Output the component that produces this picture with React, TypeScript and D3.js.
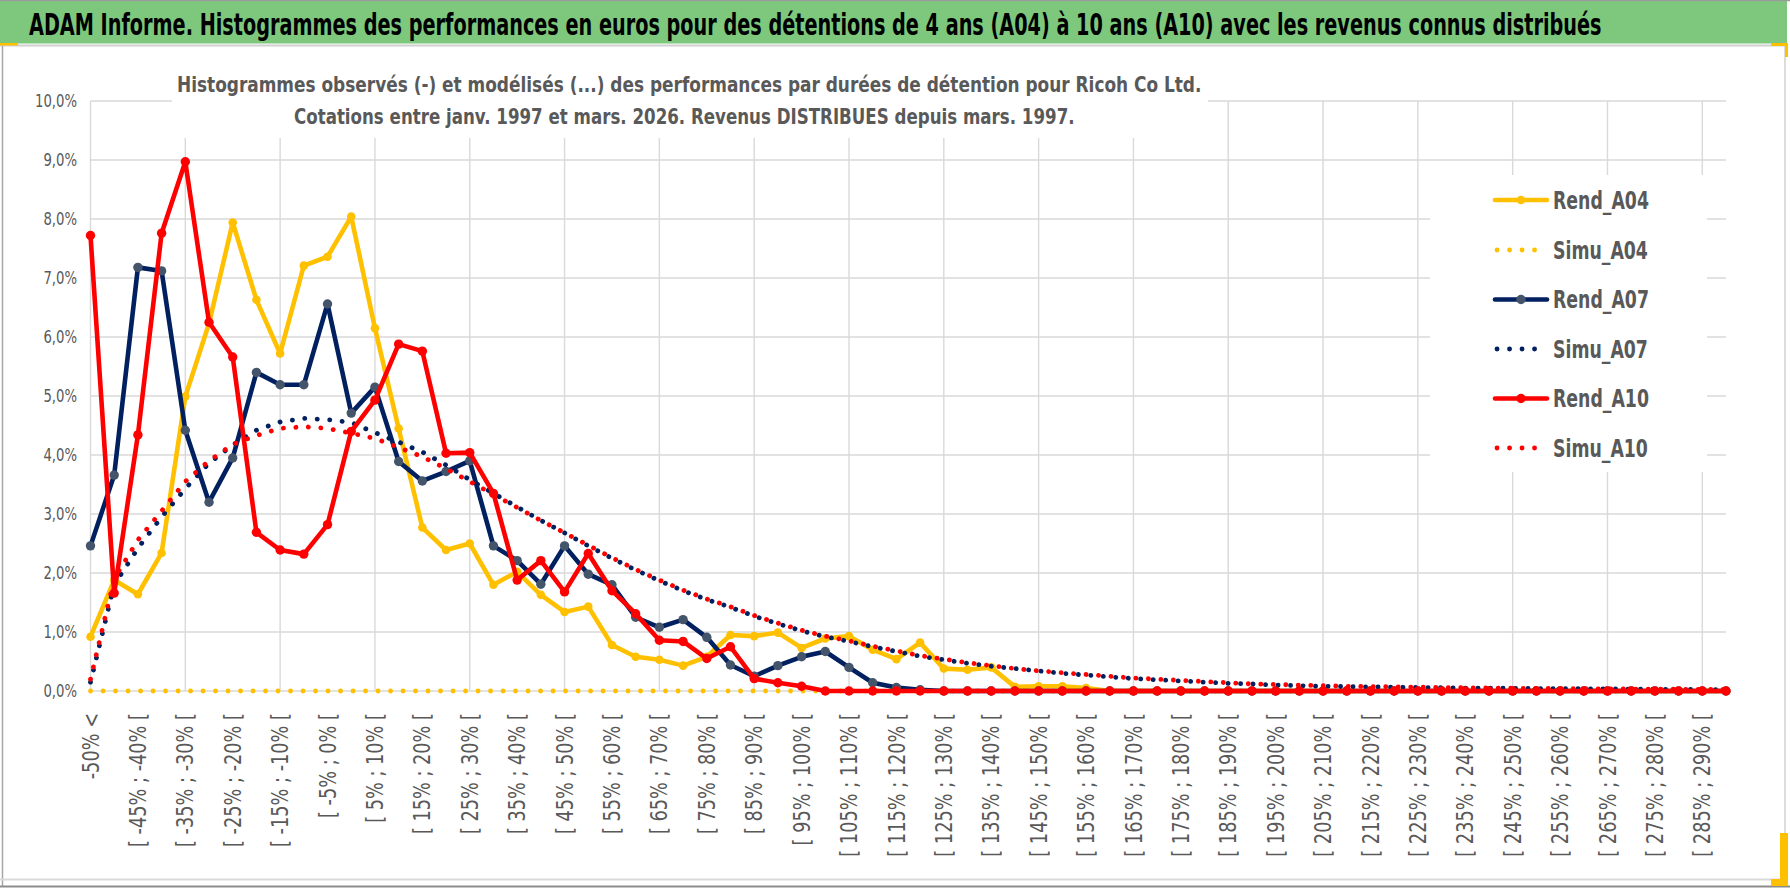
import React from "react";
import * as d3 from "d3";

const categories = [
  "-50% <", "[ -50% ; -45% [", "[ -45% ; -40% [", "[ -40% ; -35% [", "[ -35% ; -30% [",
  "[ -30% ; -25% [", "[ -25% ; -20% [", "[ -20% ; -15% [", "[ -15% ; -10% [", "[ -10% ; -5% [",
  "[ -5% ; 0% [", "[ 0% ; 5% [", "[ 5% ; 10% [", "[ 10% ; 15% [", "[ 15% ; 20% [",
  "[ 20% ; 25% [", "[ 25% ; 30% [", "[ 30% ; 35% [", "[ 35% ; 40% [", "[ 40% ; 45% [",
  "[ 45% ; 50% [", "[ 50% ; 55% [", "[ 55% ; 60% [", "[ 60% ; 65% [", "[ 65% ; 70% [",
  "[ 70% ; 75% [", "[ 75% ; 80% [", "[ 80% ; 85% [", "[ 85% ; 90% [", "[ 90% ; 95% [",
  "[ 95% ; 100% [", "[ 100% ; 105% [", "[ 105% ; 110% [", "[ 110% ; 115% [", "[ 115% ; 120% [",
  "[ 120% ; 125% [", "[ 125% ; 130% [", "[ 130% ; 135% [", "[ 135% ; 140% [", "[ 140% ; 145% [",
  "[ 145% ; 150% [", "[ 150% ; 155% [", "[ 155% ; 160% [", "[ 160% ; 165% [", "[ 165% ; 170% [",
  "[ 170% ; 175% [", "[ 175% ; 180% [", "[ 180% ; 185% [", "[ 185% ; 190% [", "[ 190% ; 195% [",
  "[ 195% ; 200% [", "[ 200% ; 205% [", "[ 205% ; 210% [", "[ 210% ; 215% [", "[ 215% ; 220% [",
  "[ 220% ; 225% [", "[ 225% ; 230% [", "[ 230% ; 235% [", "[ 235% ; 240% [", "[ 240% ; 245% [",
  "[ 245% ; 250% [", "[ 250% ; 255% [", "[ 255% ; 260% [", "[ 260% ; 265% [", "[ 265% ; 270% [",
  "[ 270% ; 275% [", "[ 275% ; 280% [", "[ 280% ; 285% [", "[ 285% ; 290% [", "[ 290% ; 295% [",
];

const yTicks = [0, 1, 2, 3, 4, 5, 6, 7, 8, 9, 10];
const yTickLabels = ["0,0%", "1,0%", "2,0%", "3,0%", "4,0%", "5,0%", "6,0%", "7,0%", "8,0%", "9,0%", "10,0%"];

const rendA04 = [
  0.92, 1.88, 1.64, 2.34, 4.99, 6.23, 7.94, 6.63, 5.72, 7.21,
  7.36, 8.04, 6.15, 4.45, 2.77, 2.39, 2.50, 1.80, 2.02, 1.63,
  1.34, 1.43, 0.78, 0.58, 0.53, 0.43, 0.58, 0.95, 0.93, 0.99,
  0.73, 0.89, 0.93, 0.70, 0.54, 0.82, 0.38, 0.36, 0.40, 0.07,
  0.08, 0.08, 0.05, 0, 0, 0, 0, 0, 0, 0,
  0, 0, 0, 0, 0, 0, 0, 0, 0, 0,
  0, 0, 0, 0, 0, 0, 0, 0, 0, 0,
];

const simuA04 = [
  0, 0, 0, 0, 0, 0, 0, 0, 0, 0,
  0, 0, 0, 0, 0, 0, 0, 0, 0, 0,
  0, 0, 0, 0, 0, 0, 0, 0, 0, 0,
  0, 0, 0, 0, 0, 0, 0, 0, 0, 0,
  0, 0, 0, 0, 0, 0, 0, 0, 0, 0,
  0, 0, 0, 0, 0, 0, 0, 0, 0, 0,
  0, 0, 0, 0, 0, 0, 0, 0, 0, 0,
];

const rendA07 = [
  2.46, 3.66, 7.18, 7.12, 4.42, 3.20, 3.95, 5.40, 5.19, 5.19,
  6.56, 4.71, 5.15, 3.89, 3.56, 3.72, 3.90, 2.46, 2.21, 1.81,
  2.46, 1.98, 1.80, 1.25, 1.08, 1.21, 0.91, 0.44, 0.25, 0.43,
  0.58, 0.67, 0.40, 0.14, 0.06, 0.02, 0, 0, 0, 0,
  0, 0, 0, 0, 0, 0, 0, 0, 0, 0,
  0, 0, 0, 0, 0, 0, 0, 0, 0, 0,
  0, 0, 0, 0, 0, 0, 0, 0, 0, 0,
];

const simuA07 = [
  0.15, 1.80, 2.42, 2.95, 3.43, 3.86, 4.17, 4.42, 4.56, 4.62,
  4.60, 4.55, 4.38, 4.22, 4.05, 3.83, 3.58, 3.35, 3.12, 2.89,
  2.68, 2.46, 2.25, 2.05, 1.87, 1.70, 1.55, 1.42, 1.27, 1.14,
  1.02, 0.92, 0.84, 0.75, 0.67, 0.59, 0.53, 0.47, 0.42, 0.38,
  0.34, 0.30, 0.27, 0.24, 0.21, 0.19, 0.17, 0.15, 0.13, 0.12,
  0.10, 0.09, 0.08, 0.075, 0.07, 0.065, 0.06, 0.055, 0.05, 0.048,
  0.045, 0.042, 0.04, 0.037, 0.035, 0.032, 0.03, 0.028, 0.026, 0.024,
];

const rendA10 = [
  7.72, 1.66, 4.34, 7.76, 8.97, 6.25, 5.66, 2.69, 2.39, 2.32,
  2.82, 4.40, 4.93, 5.88, 5.76, 4.03, 4.04, 3.35, 1.88, 2.21,
  1.68, 2.33, 1.70, 1.31, 0.86, 0.84, 0.55, 0.75, 0.21, 0.14,
  0.08, 0, 0, 0, 0, 0, 0, 0, 0, 0,
  0, 0, 0, 0, 0, 0, 0, 0, 0, 0,
  0, 0, 0, 0, 0, 0, 0, 0, 0, 0,
  0, 0, 0, 0, 0, 0, 0, 0, 0, 0,
];

const simuA10 = [
  0.20, 1.90, 2.56, 3.05, 3.55, 3.90, 4.18, 4.33, 4.45, 4.48,
  4.45, 4.37, 4.28, 4.13, 3.97, 3.77, 3.55, 3.33, 3.11, 2.89,
  2.68, 2.47, 2.26, 2.06, 1.88, 1.71, 1.56, 1.43, 1.28, 1.15,
  1.03, 0.93, 0.85, 0.76, 0.68, 0.60, 0.54, 0.48, 0.43, 0.38,
  0.34, 0.31, 0.28, 0.25, 0.22, 0.20, 0.18, 0.16, 0.14, 0.12,
  0.11, 0.10, 0.09, 0.08, 0.075, 0.07, 0.065, 0.06, 0.055, 0.05,
  0.047, 0.044, 0.041, 0.038, 0.036, 0.033, 0.031, 0.029, 0.027, 0.025,
];

const seriesNames = ["Rend_A04", "Simu_A04", "Rend_A07", "Simu_A07", "Rend_A10", "Simu_A10"];

const mainTitle =
  "ADAM Informe. Histogrammes des performances en euros pour des détentions de 4 ans (A04) à 10 ans (A10) avec les revenus connus distribués";
const subTitle1 =
  "Histogrammes observés (-) et modélisés (...) des performances par durées de détention pour Ricoh Co Ltd.";
const subTitle2 =
  "Cotations entre janv. 1997 et mars. 2026. Revenus DISTRIBUES depuis mars. 1997.";

const FONT = "'Liberation Sans Narrow', 'DejaVu Sans Condensed', 'Roboto Condensed', 'Open Sans', sans-serif";
const TXT = "#595959";
const GRID = "#D9D9D9";
const YELLOW = "#FFC000";
const NAVY = "#002060";
const NAVY_MARK = "#44546A";
const RED = "#FF0000";

let ctx: CanvasRenderingContext2D | null = null;
function measure(t: string, size: number, weight: number): number {
  if (!ctx && typeof document !== "undefined") {
    ctx = document.createElement("canvas").getContext("2d");
  }
  if (!ctx) return t.length * size * 0.5;
  ctx.font = `${weight} ${size}px ${FONT}`;
  return ctx.measureText(t).width;
}
function fitScale(t: string, size: number, weight: number, target: number): number {
  const w = measure(t, size, weight);
  return w > 0 ? target / w : 1;
}

type Series = {
  name: string;
  values: number[];
  color: string;
  dotted: boolean;
  marker?: string;
  r?: number;
};

const series: Series[] = [
  { name: seriesNames[0], values: rendA04, color: YELLOW, dotted: false, marker: YELLOW, r: 4.3 },
  { name: seriesNames[1], values: simuA04, color: YELLOW, dotted: true },
  { name: seriesNames[2], values: rendA07, color: NAVY, dotted: false, marker: NAVY_MARK, r: 4.7 },
  { name: seriesNames[3], values: simuA07, color: NAVY, dotted: true },
  { name: seriesNames[4], values: rendA10, color: RED, dotted: false, marker: RED, r: 4.7 },
  { name: seriesNames[5], values: simuA10, color: RED, dotted: true },
];

export default function App() {
  const W = 1790;
  const H = 888;
  const idx = categories.map((_, i) => i);
  const x = d3.scalePoint<number>().domain(idx).range([90.5, 1726]);
  const y = d3.scaleLinear().domain([0, 10]).range([691, 101]);
  const line = d3
    .line<number>()
    .x((_, i) => x(i) as number)
    .y((v) => y(v));

  const vGrid = idx.filter((i) => i % 4 === 0);
  const xLabels = idx.filter((i) => i % 2 === 0);
  const legendRows = [200, 250, 299.5, 349, 398.5, 448];

  const titleSize = 31;
  const titleSx = fitScale(mainTitle, titleSize, 700, 1573);
  const subSize = 22;
  const sub1Sx = fitScale(subTitle1, subSize, 700, 1025);
  const sub2Sx = fitScale(subTitle2, subSize, 700, 781);
  const ySize = 18;
  const ySx = Math.min(1, fitScale("10,0%", ySize, 400, 42));
  const xSize = 22.5;
  const xSx = Math.min(1, fitScale("[ -45% ; -40% [", xSize, 400, 134));
  const lgSize = 24.5;
  const lgSx = Math.min(1, fitScale("Rend_A04", lgSize, 700, 96));

  return (
    <svg
      width={W}
      height={H}
      viewBox={`0 0 ${W} ${H}`}
      style={{ position: "absolute", left: 0, top: 0, background: "#fff" }}
    >
      <rect x={0} y={0} width={W} height={H} fill="#ffffff" />
      <rect x={0} y={0} width={1787} height={43.5} fill="#7DC87D" />
      <line x1={0} x2={1790} y1={0.5} y2={0.5} stroke="#9A9A9A" strokeWidth={1.5} />
      <line x1={0} x2={1787} y1={45.5} y2={45.5} stroke="#D0D0D0" strokeWidth={2} />
      <line x1={2.5} x2={2.5} y1={46} y2={886} stroke="#A6A6A6" strokeWidth={1.5} />
      <line x1={1785} x2={1785} y1={46} y2={880} stroke="#D0D0D0" strokeWidth={1.5} />
      <line x1={0} x2={1785} y1={879.5} y2={879.5} stroke="#D9D9D9" strokeWidth={2} />
      <line x1={0} x2={1790} y1={886.5} y2={886.5} stroke="#8C8C8C" strokeWidth={2} />
      <rect x={0} y={43} width={18} height={2.5} fill={YELLOW} />
      <rect x={1771} y={43} width={17} height={3} fill={YELLOW} />
      <rect x={1785} y={43} width={3} height={14} fill={YELLOW} />
      <rect x={1780} y={833} width={8} height={52} fill={YELLOW} />
      <rect x={1771} y={879} width={17} height={7} fill={YELLOW} />

      <text
        transform={`translate(29,35) scale(${titleSx},1)`}
        fontFamily={FONT}
        fontWeight={700}
        fontSize={titleSize}
        fill="#000"
      >
        {mainTitle}
      </text>

      {yTicks.map((t) => (
        <line key={"h" + t} x1={90.5} x2={1726} y1={y(t)} y2={y(t)} stroke={GRID} strokeWidth={1.4} />
      ))}
      {vGrid.map((i) => (
        <line key={"v" + i} x1={x(i)} x2={x(i)} y1={101} y2={691} stroke={GRID} strokeWidth={1.4} />
      ))}

      <rect x={172} y={70} width={1036} height={68} fill="#fff" />
      <text
        transform={`translate(177,92) scale(${sub1Sx},1)`}
        fontFamily={FONT}
        fontWeight={700}
        fontSize={subSize}
        fill={TXT}
      >
        {subTitle1}
      </text>
      <text
        transform={`translate(294,124) scale(${sub2Sx},1)`}
        fontFamily={FONT}
        fontWeight={700}
        fontSize={subSize}
        fill={TXT}
      >
        {subTitle2}
      </text>

      {yTicks.map((t, k) => (
        <text
          key={"yl" + t}
          transform={`translate(77,${y(t)}) scale(${ySx},1)`}
          dy="0.36em"
          textAnchor="end"
          fontFamily={FONT}
          fontSize={ySize}
          fill={TXT}
        >
          {yTickLabels[k]}
        </text>
      ))}

      {xLabels.map((i) => (
        <text
          key={"xl" + i}
          transform={`translate(${x(i)},713) rotate(-90) scale(${xSx},1)`}
          dy="0.36em"
          textAnchor="end"
          fontFamily={FONT}
          fontSize={xSize}
          fill={TXT}
        >
          {categories[i]}
        </text>
      ))}

      {series.map((s) => (
        <g key={s.name}>
          <path
            d={line(s.values) || ""}
            fill="none"
            stroke={s.color}
            strokeWidth={s.dotted ? 4.8 : 4.6}
            strokeLinejoin="round"
            strokeLinecap="round"
            strokeDasharray={s.dotted ? "0.1 12.4" : undefined}
          />
          {s.marker &&
            s.values.map((v, i) => (
              <circle key={i} cx={x(i)} cy={y(v)} r={s.r} fill={s.marker} />
            ))}
        </g>
      ))}

      <rect x={1430} y={175} width={277} height={297} fill="#fff" />
      {series.map((s, k) => {
        const cy = legendRows[k];
        return (
          <g key={"lg" + s.name}>
            <line
              x1={s.dotted ? 1497 : 1495}
              x2={s.dotted ? (k === 5 ? 1546 : 1536) : 1547}
              y1={cy}
              y2={cy}
              stroke={s.color}
              strokeWidth={s.dotted ? 4.8 : 4.6}
              strokeLinecap="round"
              strokeDasharray={s.dotted ? "0.1 12.4" : undefined}
            />
            {s.marker && <circle cx={1521} cy={cy} r={s.r} fill={s.marker} />}
            <text
              transform={`translate(1553,${cy}) scale(${lgSx},1)`}
              dy="0.36em"
              fontFamily={FONT}
              fontWeight={700}
              fontSize={lgSize}
              fill={TXT}
            >
              {s.name}
            </text>
          </g>
        );
      })}
    </svg>
  );
}
